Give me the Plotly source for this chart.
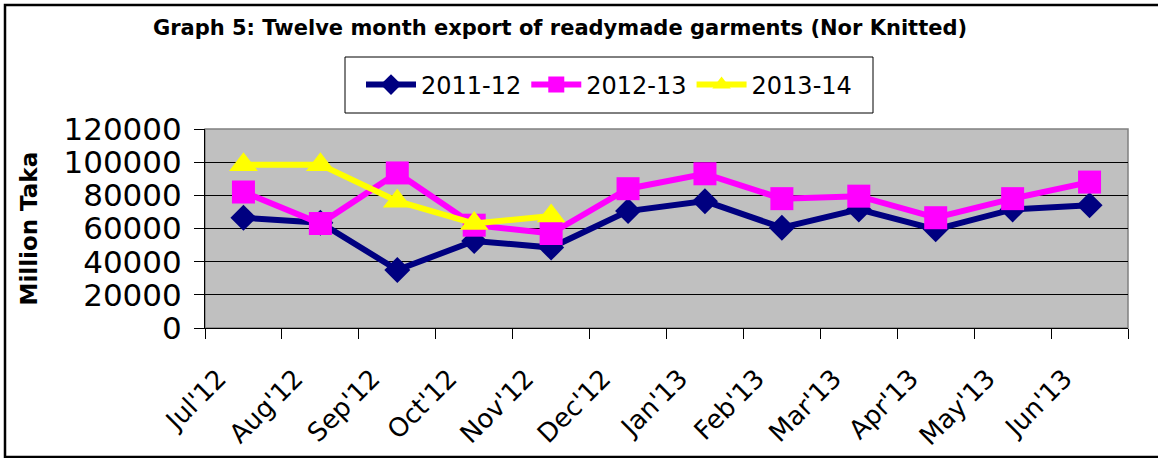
import plotly.graph_objects as go

months = ["Jul'12", "Aug'12", "Sep'12", "Oct'12", "Nov'12", "Dec'12",
          "Jan'13", "Feb'13", "Mar'13", "Apr'13", "May'13", "Jun'13"]
s2011_12 = [66500, 63500, 35000, 52500, 48500, 70500, 76500, 60500, 71500, 59500, 71500, 74000]
s2012_13 = [82000, 63000, 93500, 62000, 57000, 84000, 93000, 78000, 79500, 66500, 78000, 88000]
s2013_14 = [98500, 98500, 76500, 63000, 67500]

FONT = "DejaVu Sans"
fig = go.Figure()
fig.add_trace(go.Scatter(x=months, y=s2011_12, name="2011-12", mode="lines+markers",
                         line=dict(color="#000080", width=6),
                         marker=dict(symbol="diamond", size=20, color="#000080")))
fig.add_trace(go.Scatter(x=months, y=s2012_13, name="2012-13", mode="lines+markers",
                         line=dict(color="#FF00FF", width=6),
                         marker=dict(symbol="square", size=23, color="#FF00FF")))
fig.add_trace(go.Scatter(x=months[:len(s2013_14)], y=s2013_14, name="2013-14", mode="lines+markers",
                         line=dict(color="#FFFF00", width=6),
                         marker=dict(symbol="triangle-up", size=25, color="#FFFF00")))

L, R, T, B = 205, 30, 129, 130
W, H = 1158, 458
pw, ph = W - L - R, H - T - B

def px(x):
    return (x - L) / pw

def py(y):
    return (H - B - y) / ph

fig.update_layout(
    width=W, height=H,
    margin=dict(l=L, r=R, t=T, b=B, autoexpand=False),
    paper_bgcolor="white",
    plot_bgcolor="#C0C0C0",
    font=dict(family=FONT, color="black"),
    title=dict(text="<b>Graph 5: Twelve month export of readymade garments (Nor Knitted)</b>",
               font=dict(family=FONT, size=21, color="black"),
               x=560 / W, xanchor="center", y=1 - 28 / H, yanchor="middle"),
    legend=dict(orientation="h", x=px(609), xanchor="center", y=py(85), yanchor="middle",
                borderwidth=0, bgcolor="rgba(0,0,0,0)", itemwidth=50,
                font=dict(family=FONT, size=24)),
    showlegend=True,
    xaxis=dict(type="category", tickson="boundaries", ticks="outside", ticklen=10,
               tickcolor="black", showline=True, linecolor="black", linewidth=1,
               tickangle=-45, tickfont=dict(family=FONT, size=26),
               ticklabelstandoff=24, ticklabelshift=-25, automargin=False,
               showgrid=False, range=[-0.5, 11.5]),
    yaxis=dict(range=[0, 120000], dtick=20000, ticks="outside", ticklen=10,
               tickformat="d", automargin=False,
               tickcolor="black", showline=True, linecolor="black", linewidth=1,
               showgrid=True, gridcolor="black", gridwidth=1,
               tickfont=dict(family=FONT, size=31), ticklabelstandoff=6,
               zeroline=False),
    shapes=[
        dict(type="rect", xref="x domain", yref="y domain", x0=0, x1=1, y0=0, y1=1,
             line=dict(color="#808080", width=1.5), layer="below"),
        dict(type="rect", xref="paper", yref="paper", x0=px(5), x1=px(1175),
             y0=py(457), y1=py(5), line=dict(color="black", width=2.5)),
        dict(type="rect", xref="paper", yref="paper", x0=px(345), x1=px(873),
             y0=py(113), y1=py(57), line=dict(color="black", width=1),
             fillcolor="white", layer="below"),
    ],
    annotations=[
        dict(text="<b>Million Taka</b>", xref="paper", yref="paper", x=px(28), y=0.5,
             xanchor="center", yanchor="middle", textangle=-90, showarrow=False,
             font=dict(family=FONT, size=23, color="black")),
    ],
)

fig.write_html("out.html", config={"displayModeBar": False},
               post_script="document.body.style.margin='0';")
